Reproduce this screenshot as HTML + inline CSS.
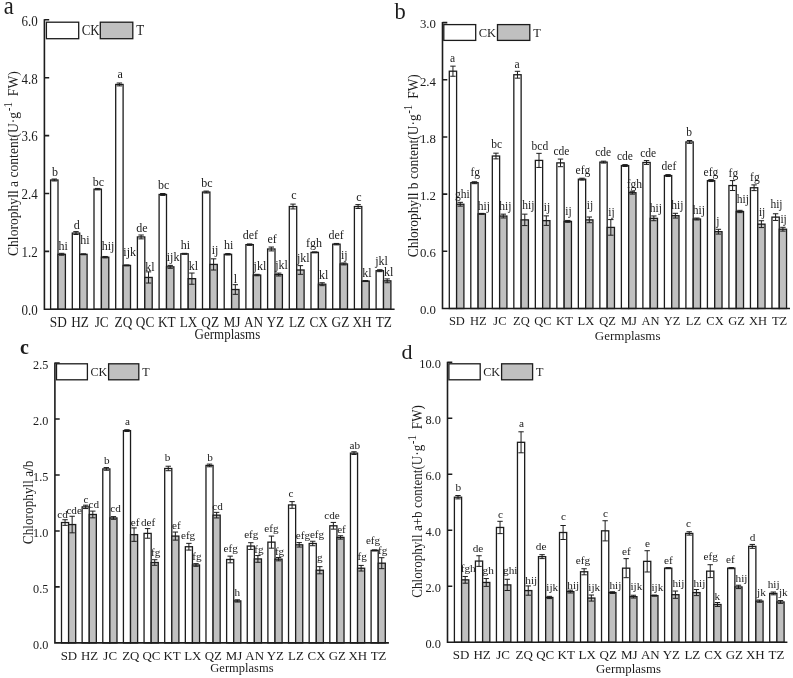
<!DOCTYPE html>
<html><head><meta charset="utf-8"><title>Chlorophyll content</title>
<style>
html,body{margin:0;padding:0;background:#fff;}
svg{display:block;will-change:transform;font-family:"Liberation Serif",serif;fill:#1c1c1c;}
</style></head>
<body>
<svg width="793" height="678" viewBox="0 0 793 678">
<rect width="793" height="678" fill="#fff"/>
<g id="panel-a">
<g stroke="#1c1c1c" stroke-width="1.3"><rect x="50.6" y="179.99" width="7.4" height="129.31" fill="#ffffff"/><rect x="58" y="254.3" width="7.4" height="55" fill="#c0c0c0"/><rect x="72.3" y="233.06" width="7.4" height="76.24" fill="#ffffff"/><rect x="79.7" y="254.3" width="7.4" height="55" fill="#c0c0c0"/><rect x="94" y="189.16" width="7.4" height="120.14" fill="#ffffff"/><rect x="101.4" y="257.19" width="7.4" height="52.11" fill="#c0c0c0"/><rect x="115.7" y="84.46" width="7.4" height="224.84" fill="#ffffff"/><rect x="123.1" y="265.39" width="7.4" height="43.91" fill="#c0c0c0"/><rect x="137.4" y="236.93" width="7.4" height="72.38" fill="#ffffff"/><rect x="144.8" y="277.45" width="7.4" height="31.85" fill="#c0c0c0"/><rect x="159.1" y="194.47" width="7.4" height="114.83" fill="#ffffff"/><rect x="166.5" y="266.84" width="7.4" height="42.46" fill="#c0c0c0"/><rect x="180.8" y="253.81" width="7.4" height="55.49" fill="#ffffff"/><rect x="188.2" y="278.66" width="7.4" height="30.64" fill="#c0c0c0"/><rect x="202.5" y="192.05" width="7.4" height="117.25" fill="#ffffff"/><rect x="209.9" y="264.43" width="7.4" height="44.87" fill="#c0c0c0"/><rect x="224.2" y="254.3" width="7.4" height="55" fill="#ffffff"/><rect x="231.6" y="289.52" width="7.4" height="19.78" fill="#c0c0c0"/><rect x="245.9" y="244.65" width="7.4" height="64.66" fill="#ffffff"/><rect x="253.3" y="275.04" width="7.4" height="34.26" fill="#c0c0c0"/><rect x="267.6" y="248.99" width="7.4" height="60.31" fill="#ffffff"/><rect x="275" y="274.56" width="7.4" height="34.74" fill="#c0c0c0"/><rect x="289.3" y="206.53" width="7.4" height="102.77" fill="#ffffff"/><rect x="296.7" y="269.98" width="7.4" height="39.32" fill="#c0c0c0"/><rect x="311" y="252.37" width="7.4" height="56.94" fill="#ffffff"/><rect x="318.4" y="284.21" width="7.4" height="25.09" fill="#c0c0c0"/><rect x="332.7" y="244.16" width="7.4" height="65.14" fill="#ffffff"/><rect x="340.1" y="263.94" width="7.4" height="45.36" fill="#c0c0c0"/><rect x="354.4" y="206.53" width="7.4" height="102.77" fill="#ffffff"/><rect x="361.8" y="281.07" width="7.4" height="28.23" fill="#c0c0c0"/><rect x="376.1" y="270.7" width="7.4" height="38.6" fill="#ffffff"/><rect x="383.5" y="280.83" width="7.4" height="28.47" fill="#c0c0c0"/></g>
<path d="M54.3 179.03V180.96M51.6 179.03h5.4M51.6 180.96h5.4M61.7 253.33V255.26M59 253.33h5.4M59 255.26h5.4M76 231.62V234.51M73.3 231.62h5.4M73.3 234.51h5.4M83.4 253.81V254.78M80.7 253.81h5.4M80.7 254.78h5.4M97.7 188.43V189.88M95 188.43h5.4M95 189.88h5.4M105.1 256.47V257.91M102.4 256.47h5.4M102.4 257.91h5.4M119.4 83.01V85.9M116.7 83.01h5.4M116.7 85.9h5.4M126.8 264.91V265.88M124.1 264.91h5.4M124.1 265.88h5.4M141.1 235V238.86M138.4 235h5.4M138.4 238.86h5.4M148.5 271.86V283.05M145.8 271.86h5.4M145.8 283.05h5.4M162.8 193.5V195.43M160.1 193.5h5.4M160.1 195.43h5.4M170.2 265.39V268.29M167.5 265.39h5.4M167.5 268.29h5.4M184.5 253.33V254.29M181.8 253.33h5.4M181.8 254.29h5.4M191.9 273.06V284.26M189.2 273.06h5.4M189.2 284.26h5.4M206.2 191.09V193.02M203.5 191.09h5.4M203.5 193.02h5.4M213.6 258.83V270.02M210.9 258.83h5.4M210.9 270.02h5.4M227.9 253.57V255.02M225.2 253.57h5.4M225.2 255.02h5.4M235.3 284.69V294.34M232.6 284.69h5.4M232.6 294.34h5.4M249.6 243.92V245.37M246.9 243.92h5.4M246.9 245.37h5.4M257 274.32V275.77M254.3 274.32h5.4M254.3 275.77h5.4M271.3 247.06V250.92M268.6 247.06h5.4M268.6 250.92h5.4M278.7 273.11V276.01M276 273.11h5.4M276 276.01h5.4M293 204.12V208.94M290.3 204.12h5.4M290.3 208.94h5.4M300.4 265.63V274.32M297.7 265.63h5.4M297.7 274.32h5.4M314.7 251.88V252.85M312 251.88h5.4M312 252.85h5.4M322.1 282.76V285.66M319.4 282.76h5.4M319.4 285.66h5.4M336.4 243.44V244.89M333.7 243.44h5.4M333.7 244.89h5.4M343.8 262.98V264.91M341.1 262.98h5.4M341.1 264.91h5.4M358.1 204.6V208.46M355.4 204.6h5.4M355.4 208.46h5.4M365.5 280.59V281.56M362.8 280.59h5.4M362.8 281.56h5.4M379.8 269.74V271.66M377.1 269.74h5.4M377.1 271.66h5.4M387.2 278.9V282.76M384.5 278.9h5.4M384.5 282.76h5.4" fill="none" stroke="#1c1c1c" stroke-width="1.0"/>
<path d="M44.4 19.3V309.3H394.6M44.4 251.4h4.8M44.4 193.5h4.8M44.4 135.6h4.8M44.4 77.7h4.8M44.4 19.8h4.8" fill="none" stroke="#1c1c1c" stroke-width="1.6"/>
<g font-size="13" text-anchor="end"><text transform="translate(37.8 315.1) scale(1 1.1)">0.0</text><text transform="translate(37.8 257.2) scale(1 1.1)">1.2</text><text transform="translate(37.8 199.3) scale(1 1.1)">2.4</text><text transform="translate(37.8 141.4) scale(1 1.1)">3.6</text><text transform="translate(37.8 83.5) scale(1 1.1)">4.8</text><text transform="translate(37.8 25.6) scale(1 1.1)">6.0</text></g>
<g font-size="13.3" text-anchor="middle"><text transform="translate(58.3 326.6) scale(1 1.1)">SD</text><text transform="translate(80 326.6) scale(1 1.1)">HZ</text><text transform="translate(101.7 326.6) scale(1 1.1)">JC</text><text transform="translate(123.4 326.6) scale(1 1.1)">ZQ</text><text transform="translate(145.1 326.6) scale(1 1.1)">QC</text><text transform="translate(166.8 326.6) scale(1 1.1)">KT</text><text transform="translate(188.5 326.6) scale(1 1.1)">LX</text><text transform="translate(210.2 326.6) scale(1 1.1)">QZ</text><text transform="translate(231.9 326.6) scale(1 1.1)">MJ</text><text transform="translate(253.6 326.6) scale(1 1.1)">AN</text><text transform="translate(275.3 326.6) scale(1 1.1)">YZ</text><text transform="translate(297 326.6) scale(1 1.1)">LZ</text><text transform="translate(318.7 326.6) scale(1 1.1)">CX</text><text transform="translate(340.4 326.6) scale(1 1.1)">GZ</text><text transform="translate(362.1 326.6) scale(1 1.1)">XH</text><text transform="translate(383.8 326.6) scale(1 1.1)">TZ</text></g>
<g font-size="12" text-anchor="middle"><text x="55.1" y="175.7">b</text><text x="63.2" y="250.4">hi</text><text x="76.8" y="228.6">d</text><text x="84.9" y="243.7">hi</text><text x="98.5" y="185.8">bc</text><text x="108" y="250.4">hij</text><text x="120.2" y="78.3">a</text><text x="129.7" y="256.4">ijk</text><text x="141.9" y="232.2">de</text><text x="150" y="270.6">kl</text><text x="163.6" y="189.3">bc</text><text x="173.1" y="260.5">ijk</text><text x="185.3" y="249.4">hi</text><text x="193.4" y="270">kl</text><text x="207" y="187.2">bc</text><text x="215.1" y="254.4">ij</text><text x="228.7" y="249.4">hi</text><text x="235.3" y="282.7">l</text><text x="250.4" y="239.3">def</text><text x="259.9" y="270">jkl</text><text x="272.1" y="243.1">ef</text><text x="281.6" y="268.6">jkl</text><text x="293.8" y="199.3">c</text><text x="303.3" y="261.9">jkl</text><text x="313.9" y="247.2">fgh</text><text x="323.6" y="278.6">kl</text><text x="336.2" y="239.3">def</text><text x="344.3" y="259.3">ij</text><text x="358.9" y="200.5">c</text><text x="367" y="276.6">kl</text><text x="381.6" y="264.5">jkl</text><text x="388.7" y="275.6">kl</text></g>
<text transform="translate(227.4 339.3) scale(1 1.1)" font-size="13" text-anchor="middle">Germplasms</text>
<text transform="translate(18.2 163.6) rotate(-90) scale(1 1.12)" font-size="13.6" text-anchor="middle">Chlorophyll a content(U·g<tspan font-size="11" dy="-5.8" dx="0.6">-1</tspan><tspan dy="5.8" dx="2.6"> FW)</tspan></text>
<g stroke="#1c1c1c" stroke-width="1.3"><rect x="46.4" y="22.2" width="32.3" height="16.5" fill="#fff"/><rect x="100.3" y="22.2" width="32.5" height="16.5" fill="#c0c0c0"/></g>
<text transform="translate(81.7 35.05) scale(1 1.1)" font-size="13">CK</text>
<text transform="translate(136.3 35.05) scale(1 1.1)" font-size="13">T</text>
<text transform="translate(3.8 14.2) scale(1 1.08)" font-size="22.5">a</text>
</g>
<g id="panel-b">
<g stroke="#1c1c1c" stroke-width="1.3"><rect x="449.3" y="71.2" width="7.3" height="237.3" fill="#ffffff"/><rect x="456.6" y="204.24" width="7.3" height="104.26" fill="#c0c0c0"/><rect x="470.81" y="182.7" width="7.3" height="125.8" fill="#ffffff"/><rect x="478.11" y="213.87" width="7.3" height="94.63" fill="#c0c0c0"/><rect x="492.32" y="156.02" width="7.3" height="152.48" fill="#ffffff"/><rect x="499.62" y="216.06" width="7.3" height="92.44" fill="#c0c0c0"/><rect x="513.83" y="74.73" width="7.3" height="233.77" fill="#ffffff"/><rect x="521.13" y="219.87" width="7.3" height="88.63" fill="#c0c0c0"/><rect x="535.34" y="160.4" width="7.3" height="148.1" fill="#ffffff"/><rect x="542.64" y="220.63" width="7.3" height="87.87" fill="#c0c0c0"/><rect x="556.85" y="162.88" width="7.3" height="145.62" fill="#ffffff"/><rect x="564.15" y="221.4" width="7.3" height="87.1" fill="#c0c0c0"/><rect x="578.36" y="179.18" width="7.3" height="129.32" fill="#ffffff"/><rect x="585.66" y="219.87" width="7.3" height="88.63" fill="#c0c0c0"/><rect x="599.87" y="162.12" width="7.3" height="146.38" fill="#ffffff"/><rect x="607.17" y="227.4" width="7.3" height="81.1" fill="#c0c0c0"/><rect x="621.38" y="165.55" width="7.3" height="142.95" fill="#ffffff"/><rect x="628.68" y="192.71" width="7.3" height="115.79" fill="#c0c0c0"/><rect x="642.89" y="162.5" width="7.3" height="146" fill="#ffffff"/><rect x="650.19" y="218.35" width="7.3" height="90.15" fill="#c0c0c0"/><rect x="664.4" y="175.56" width="7.3" height="132.94" fill="#ffffff"/><rect x="671.7" y="215.68" width="7.3" height="92.82" fill="#c0c0c0"/><rect x="685.91" y="141.92" width="7.3" height="166.58" fill="#ffffff"/><rect x="693.21" y="219.01" width="7.3" height="89.49" fill="#c0c0c0"/><rect x="707.42" y="180.61" width="7.3" height="127.89" fill="#ffffff"/><rect x="714.72" y="231.69" width="7.3" height="76.81" fill="#c0c0c0"/><rect x="728.93" y="185.56" width="7.3" height="122.94" fill="#ffffff"/><rect x="736.23" y="211.48" width="7.3" height="97.02" fill="#c0c0c0"/><rect x="750.44" y="187.75" width="7.3" height="120.75" fill="#ffffff"/><rect x="757.74" y="224.16" width="7.3" height="84.34" fill="#c0c0c0"/><rect x="771.95" y="217.11" width="7.3" height="91.39" fill="#ffffff"/><rect x="779.25" y="229.21" width="7.3" height="79.29" fill="#c0c0c0"/></g>
<path d="M452.95 66.15V76.25M450.25 66.15h5.4M450.25 76.25h5.4M460.25 202.34V206.15M457.55 202.34h5.4M457.55 206.15h5.4M474.46 181.75V183.66M471.76 181.75h5.4M471.76 183.66h5.4M481.76 213.39V214.34M479.06 213.39h5.4M479.06 214.34h5.4M495.97 153.16V158.88M493.27 153.16h5.4M493.27 158.88h5.4M503.27 214.15V217.97M500.57 214.15h5.4M500.57 217.97h5.4M517.48 71.3V78.16M514.78 71.3h5.4M514.78 78.16h5.4M524.78 214.15V225.59M522.08 214.15h5.4M522.08 225.59h5.4M538.99 153.35V167.46M536.29 153.35h5.4M536.29 167.46h5.4M546.29 215.87V225.4M543.59 215.87h5.4M543.59 225.4h5.4M560.5 159.07V166.69M557.8 159.07h5.4M557.8 166.69h5.4M567.8 220.44V222.35M565.1 220.44h5.4M565.1 222.35h5.4M582.01 178.22V180.13M579.31 178.22h5.4M579.31 180.13h5.4M589.31 217.01V222.73M586.61 217.01h5.4M586.61 222.73h5.4M603.52 161.17V163.07M600.82 161.17h5.4M600.82 163.07h5.4M610.82 219.59V235.21M608.12 219.59h5.4M608.12 235.21h5.4M625.03 164.6V166.5M622.33 164.6h5.4M622.33 166.5h5.4M632.33 191.28V194.14M629.63 191.28h5.4M629.63 194.14h5.4M646.54 160.59V164.41M643.84 160.59h5.4M643.84 164.41h5.4M653.84 215.96V220.73M651.14 215.96h5.4M651.14 220.73h5.4M668.05 174.6V176.51M665.35 174.6h5.4M665.35 176.51h5.4M675.35 213.3V218.06M672.65 213.3h5.4M672.65 218.06h5.4M689.56 140.49V143.35M686.86 140.49h5.4M686.86 143.35h5.4M696.86 218.06V219.97M694.16 218.06h5.4M694.16 219.97h5.4M711.07 179.65V181.56M708.37 179.65h5.4M708.37 181.56h5.4M718.37 229.31V234.07M715.67 229.31h5.4M715.67 234.07h5.4M732.58 180.61V190.52M729.88 180.61h5.4M729.88 190.52h5.4M739.88 210.34V212.63M737.18 210.34h5.4M737.18 212.63h5.4M754.09 184.9V190.61M751.39 184.9h5.4M751.39 190.61h5.4M761.39 220.73V227.59M758.69 220.73h5.4M758.69 227.59h5.4M775.6 213.77V220.44M772.9 213.77h5.4M772.9 220.44h5.4M782.9 227.3V231.12M780.2 227.3h5.4M780.2 231.12h5.4" fill="none" stroke="#1c1c1c" stroke-width="1.0"/>
<path d="M442.5 22.1V308.5H790M442.5 251.32h4.8M442.5 194.14h4.8M442.5 136.96h4.8M442.5 79.78h4.8M442.5 22.6h4.8" fill="none" stroke="#1c1c1c" stroke-width="1.6"/>
<g font-size="12.8" text-anchor="end"><text x="435.9" y="314.3">0.0</text><text x="435.9" y="257.12">0.6</text><text x="435.9" y="199.94">1.2</text><text x="435.9" y="142.76">1.8</text><text x="435.9" y="85.58">2.4</text><text x="435.9" y="28.4">3.0</text></g>
<g font-size="12.5" text-anchor="middle"><text x="456.9" y="324.6">SD</text><text x="478.41" y="324.6">HZ</text><text x="499.92" y="324.6">JC</text><text x="521.43" y="324.6">ZQ</text><text x="542.94" y="324.6">QC</text><text x="564.45" y="324.6">KT</text><text x="585.96" y="324.6">LX</text><text x="607.47" y="324.6">QZ</text><text x="628.98" y="324.6">MJ</text><text x="650.49" y="324.6">AN</text><text x="672" y="324.6">YZ</text><text x="693.51" y="324.6">LZ</text><text x="715.02" y="324.6">CX</text><text x="736.53" y="324.6">GZ</text><text x="758.04" y="324.6">XH</text><text x="779.55" y="324.6">TZ</text></g>
<g font-size="11.52" text-anchor="middle"><text x="452.55" y="62.1">a</text><text x="462.25" y="198.2">ghi</text><text x="475.26" y="175.6">fg</text><text x="483.76" y="209.5">hij</text><text x="496.77" y="148.3">bc</text><text x="505.27" y="209.5">hij</text><text x="517.08" y="67.6">a</text><text x="528.28" y="208.9">hij</text><text x="539.89" y="150">bcd</text><text x="546.99" y="210.9">ij</text><text x="561.4" y="155.4">cde</text><text x="568.5" y="214.9">ij</text><text x="582.91" y="174.2">efg</text><text x="590.01" y="209.3">ij</text><text x="603.22" y="156.4">cde</text><text x="611.52" y="215.5">ij</text><text x="624.93" y="160.4">cde</text><text x="634.33" y="187.7">fgh</text><text x="648.24" y="157">cde</text><text x="655.84" y="211.9">hij</text><text x="668.95" y="170.1">def</text><text x="677.35" y="208.9">hij</text><text x="689.16" y="136.2">b</text><text x="698.86" y="214.3">hij</text><text x="710.97" y="175.6">efg</text><text x="717.77" y="225.4">j</text><text x="733.38" y="176.6">fg</text><text x="742.88" y="202.8">hij</text><text x="754.89" y="180.6">fg</text><text x="762.09" y="215.7">ij</text><text x="776.5" y="208.4">hij</text><text x="783.6" y="222.8">ij</text></g>
<text x="627.7" y="339.8" font-size="13" text-anchor="middle">Germplasms</text>
<text transform="translate(418.2 165.7) rotate(-90) scale(1 1.12)" font-size="13.4" text-anchor="middle">Chlorophyll b content(U·g<tspan font-size="11" dy="-5.8" dx="0.6">-1</tspan><tspan dy="5.8" dx="2.6"> FW)</tspan></text>
<g stroke="#1c1c1c" stroke-width="1.3"><rect x="443.8" y="24.6" width="31.9" height="15.8" fill="#fff"/><rect x="497.5" y="24.6" width="32.3" height="15.8" fill="#c0c0c0"/></g>
<text x="478.7" y="37.1" font-size="12.48">CK</text>
<text x="533.3" y="37.1" font-size="12.48">T</text>
<text x="394.4" y="19.4" font-size="22.5">b</text>
</g>
<g id="panel-c">
<g stroke="#1c1c1c" stroke-width="1.3"><rect x="61.5" y="522.54" width="7.1" height="120.36" fill="#ffffff"/><rect x="68.6" y="524.56" width="7.1" height="118.34" fill="#c0c0c0"/><rect x="82.14" y="506.87" width="7.1" height="136.03" fill="#ffffff"/><rect x="89.24" y="514.48" width="7.1" height="128.42" fill="#c0c0c0"/><rect x="102.78" y="468.91" width="7.1" height="173.99" fill="#ffffff"/><rect x="109.88" y="517.95" width="7.1" height="124.95" fill="#c0c0c0"/><rect x="123.42" y="430.62" width="7.1" height="212.28" fill="#ffffff"/><rect x="130.52" y="534.63" width="7.1" height="108.27" fill="#c0c0c0"/><rect x="144.06" y="533.4" width="7.1" height="109.5" fill="#ffffff"/><rect x="151.16" y="562.51" width="7.1" height="80.39" fill="#c0c0c0"/><rect x="164.7" y="468.47" width="7.1" height="174.43" fill="#ffffff"/><rect x="171.8" y="536.09" width="7.1" height="106.81" fill="#c0c0c0"/><rect x="185.34" y="546.73" width="7.1" height="96.17" fill="#ffffff"/><rect x="192.44" y="564.98" width="7.1" height="77.92" fill="#c0c0c0"/><rect x="205.98" y="465.44" width="7.1" height="177.46" fill="#ffffff"/><rect x="213.08" y="515.15" width="7.1" height="127.75" fill="#c0c0c0"/><rect x="226.62" y="559.49" width="7.1" height="83.41" fill="#ffffff"/><rect x="233.72" y="600.91" width="7.1" height="41.99" fill="#c0c0c0"/><rect x="247.26" y="546.05" width="7.1" height="96.85" fill="#ffffff"/><rect x="254.36" y="558.93" width="7.1" height="83.97" fill="#c0c0c0"/><rect x="267.9" y="542.14" width="7.1" height="100.76" fill="#ffffff"/><rect x="275" y="559.15" width="7.1" height="83.75" fill="#c0c0c0"/><rect x="288.54" y="504.97" width="7.1" height="137.93" fill="#ffffff"/><rect x="295.64" y="544.82" width="7.1" height="98.08" fill="#c0c0c0"/><rect x="309.18" y="543.48" width="7.1" height="99.42" fill="#ffffff"/><rect x="316.28" y="570.24" width="7.1" height="72.66" fill="#c0c0c0"/><rect x="329.82" y="525.79" width="7.1" height="117.11" fill="#ffffff"/><rect x="336.92" y="537.43" width="7.1" height="105.47" fill="#c0c0c0"/><rect x="350.46" y="453.13" width="7.1" height="189.77" fill="#ffffff"/><rect x="357.56" y="568.22" width="7.1" height="74.68" fill="#c0c0c0"/><rect x="371.1" y="550.42" width="7.1" height="92.48" fill="#ffffff"/><rect x="378.2" y="563.18" width="7.1" height="79.72" fill="#c0c0c0"/></g>
<path d="M65.05 519.74V525.34M62.35 519.74h5.4M62.35 525.34h5.4M72.15 516.27V532.84M69.45 516.27h5.4M69.45 532.84h5.4M85.69 505.19V508.55M82.99 505.19h5.4M82.99 508.55h5.4M92.79 511.12V517.84M90.09 511.12h5.4M90.09 517.84h5.4M106.33 467.57V470.26M103.63 467.57h5.4M103.63 470.26h5.4M113.43 516.61V519.3M110.73 516.61h5.4M110.73 519.3h5.4M126.97 429.73V431.52M124.27 429.73h5.4M124.27 431.52h5.4M134.07 527.92V541.35M131.37 527.92h5.4M131.37 541.35h5.4M147.61 528.59V538.22M144.91 528.59h5.4M144.91 538.22h5.4M154.71 559.71V565.31M152.01 559.71h5.4M152.01 565.31h5.4M168.25 466.23V470.71M165.55 466.23h5.4M165.55 470.71h5.4M175.35 532.06V540.12M172.65 532.06h5.4M172.65 540.12h5.4M188.89 543.37V550.09M186.19 543.37h5.4M186.19 550.09h5.4M195.99 563.63V566.32M193.29 563.63h5.4M193.29 566.32h5.4M209.53 464.1V466.79M206.83 464.1h5.4M206.83 466.79h5.4M216.63 512.35V517.95M213.93 512.35h5.4M213.93 517.95h5.4M230.17 556.13V562.85M227.47 556.13h5.4M227.47 562.85h5.4M237.27 599.8V602.03M234.57 599.8h5.4M234.57 602.03h5.4M250.81 542.7V549.41M248.11 542.7h5.4M248.11 549.41h5.4M257.91 555.57V562.29M255.21 555.57h5.4M255.21 562.29h5.4M271.45 536.09V548.18M268.75 536.09h5.4M268.75 548.18h5.4M278.55 557.47V560.83M275.85 557.47h5.4M275.85 560.83h5.4M292.09 501.61V508.32M289.39 501.61h5.4M289.39 508.32h5.4M299.19 542.58V547.06M296.49 542.58h5.4M296.49 547.06h5.4M312.73 541.24V545.72M310.03 541.24h5.4M310.03 545.72h5.4M319.83 566.66V573.82M317.13 566.66h5.4M317.13 573.82h5.4M333.37 522.43V529.15M330.67 522.43h5.4M330.67 529.15h5.4M340.47 535.75V539.11M337.77 535.75h5.4M337.77 539.11h5.4M354.01 451.78V454.47M351.31 451.78h5.4M351.31 454.47h5.4M361.11 565.42V571.02M358.41 565.42h5.4M358.41 571.02h5.4M374.65 549.86V550.98M371.95 549.86h5.4M371.95 550.98h5.4M381.75 557.7V568.67M379.05 557.7h5.4M379.05 568.67h5.4" fill="none" stroke="#1c1c1c" stroke-width="1.0"/>
<path d="M54.9 362.5V642.9H388.9M54.9 586.92h4.8M54.9 530.94h4.8M54.9 474.96h4.8M54.9 418.98h4.8M54.9 363h4.8" fill="none" stroke="#1c1c1c" stroke-width="1.6"/>
<g font-size="12.2" text-anchor="end"><text transform="translate(48.3 648.7) scale(1 1.04)">0.0</text><text transform="translate(48.3 592.72) scale(1 1.04)">0.5</text><text transform="translate(48.3 536.74) scale(1 1.04)">1.0</text><text transform="translate(48.3 480.76) scale(1 1.04)">1.5</text><text transform="translate(48.3 424.78) scale(1 1.04)">2.0</text><text transform="translate(48.3 368.8) scale(1 1.04)">2.5</text></g>
<g font-size="12.9" text-anchor="middle"><text transform="translate(68.9 659.5) scale(1 1.04)">SD</text><text transform="translate(89.54 659.5) scale(1 1.04)">HZ</text><text transform="translate(110.18 659.5) scale(1 1.04)">JC</text><text transform="translate(130.82 659.5) scale(1 1.04)">ZQ</text><text transform="translate(151.46 659.5) scale(1 1.04)">QC</text><text transform="translate(172.1 659.5) scale(1 1.04)">KT</text><text transform="translate(192.74 659.5) scale(1 1.04)">LX</text><text transform="translate(213.38 659.5) scale(1 1.04)">QZ</text><text transform="translate(234.02 659.5) scale(1 1.04)">MJ</text><text transform="translate(254.66 659.5) scale(1 1.04)">AN</text><text transform="translate(275.3 659.5) scale(1 1.04)">YZ</text><text transform="translate(295.94 659.5) scale(1 1.04)">LZ</text><text transform="translate(316.58 659.5) scale(1 1.04)">CX</text><text transform="translate(337.22 659.5) scale(1 1.04)">GZ</text><text transform="translate(357.86 659.5) scale(1 1.04)">XH</text><text transform="translate(378.5 659.5) scale(1 1.04)">TZ</text></g>
<g font-size="11.16" text-anchor="middle"><text x="62.55" y="517.5">cd</text><text x="74.15" y="513.8">cde</text><text x="86.09" y="502.7">c</text><text x="93.79" y="507.8">cd</text><text x="106.73" y="464.4">b</text><text x="115.63" y="512.4">cd</text><text x="127.37" y="425.4">a</text><text x="135.07" y="525.5">ef</text><text x="148.11" y="525.5">def</text><text x="155.71" y="555.5">fg</text><text x="167.65" y="461.4">b</text><text x="176.35" y="529">ef</text><text x="188.09" y="539">efg</text><text x="196.99" y="559.5">fg</text><text x="209.93" y="461">b</text><text x="217.63" y="509.7">cd</text><text x="230.67" y="552">efg</text><text x="237.27" y="596.4">h</text><text x="251.31" y="538.3">efg</text><text x="258.91" y="552.5">fg</text><text x="271.35" y="532.3">efg</text><text x="279.55" y="554.5">fg</text><text x="291.09" y="497.2">c</text><text x="302.99" y="538.8">efg</text><text x="317.03" y="538.4">efg</text><text x="319.83" y="561.2">g</text><text x="331.97" y="518.7">cde</text><text x="341.47" y="532.7">ef</text><text x="354.81" y="448.7">ab</text><text x="362.11" y="559.8">fg</text><text x="373.05" y="544.4">efg</text><text x="382.75" y="554.1">fg</text></g>
<text transform="translate(241.9 672.1) scale(1 1.04)" font-size="12.5" text-anchor="middle">Germplasms</text>
<text transform="translate(32.6 502.4) rotate(-90) scale(1 1.12)" font-size="13.27" text-anchor="middle">Chlorophyll a/b</text>
<g stroke="#1c1c1c" stroke-width="1.3"><rect x="56.5" y="363.8" width="30.9" height="16" fill="#fff"/><rect x="108.6" y="363.8" width="30.2" height="16" fill="#c0c0c0"/></g>
<text transform="translate(90.4 376.4) scale(1 1.04)" font-size="12.09">CK</text>
<text transform="translate(142.3 376.4) scale(1 1.04)" font-size="12.09">T</text>
<text transform="translate(19.9 354) scale(1 1.02)" font-size="20" font-weight="bold">c</text>
</g>
<g id="panel-d">
<g stroke="#1c1c1c" stroke-width="1.3"><rect x="454.4" y="497.21" width="7.2" height="145.09" fill="#ffffff"/><rect x="461.6" y="579.84" width="7.2" height="62.46" fill="#c0c0c0"/><rect x="475.42" y="561.07" width="7.2" height="81.23" fill="#ffffff"/><rect x="482.62" y="582.47" width="7.2" height="59.83" fill="#c0c0c0"/><rect x="496.44" y="527.46" width="7.2" height="114.84" fill="#ffffff"/><rect x="503.64" y="584.88" width="7.2" height="57.42" fill="#c0c0c0"/><rect x="517.46" y="442.31" width="7.2" height="199.99" fill="#ffffff"/><rect x="524.66" y="590.57" width="7.2" height="51.73" fill="#c0c0c0"/><rect x="538.48" y="556.65" width="7.2" height="85.65" fill="#ffffff"/><rect x="545.68" y="597.48" width="7.2" height="44.82" fill="#c0c0c0"/><rect x="559.5" y="532.5" width="7.2" height="109.8" fill="#ffffff"/><rect x="566.7" y="591.6" width="7.2" height="50.7" fill="#c0c0c0"/><rect x="580.52" y="571.77" width="7.2" height="70.53" fill="#ffffff"/><rect x="587.72" y="598.04" width="7.2" height="44.26" fill="#c0c0c0"/><rect x="601.54" y="530.82" width="7.2" height="111.48" fill="#ffffff"/><rect x="608.74" y="592.58" width="7.2" height="49.72" fill="#c0c0c0"/><rect x="622.56" y="568.16" width="7.2" height="74.14" fill="#ffffff"/><rect x="629.76" y="596.64" width="7.2" height="45.66" fill="#c0c0c0"/><rect x="643.58" y="561.35" width="7.2" height="80.95" fill="#ffffff"/><rect x="650.78" y="595.61" width="7.2" height="46.69" fill="#c0c0c0"/><rect x="664.6" y="568.16" width="7.2" height="74.14" fill="#ffffff"/><rect x="671.8" y="594.68" width="7.2" height="47.62" fill="#c0c0c0"/><rect x="685.62" y="533.43" width="7.2" height="108.87" fill="#ffffff"/><rect x="692.82" y="592.58" width="7.2" height="49.72" fill="#c0c0c0"/><rect x="706.64" y="571.15" width="7.2" height="71.15" fill="#ffffff"/><rect x="713.84" y="604.49" width="7.2" height="37.81" fill="#c0c0c0"/><rect x="727.66" y="568.16" width="7.2" height="74.14" fill="#ffffff"/><rect x="734.86" y="586.92" width="7.2" height="55.38" fill="#c0c0c0"/><rect x="748.68" y="546.39" width="7.2" height="95.91" fill="#ffffff"/><rect x="755.88" y="601.13" width="7.2" height="41.17" fill="#c0c0c0"/><rect x="769.7" y="593.42" width="7.2" height="48.88" fill="#ffffff"/><rect x="776.9" y="601.97" width="7.2" height="40.33" fill="#c0c0c0"/></g>
<path d="M458 495.53V498.89M455.3 495.53h5.4M455.3 498.89h5.4M465.2 576.48V583.2M462.5 576.48h5.4M462.5 583.2h5.4M479.02 555.75V566.39M476.32 555.75h5.4M476.32 566.39h5.4M486.22 578.55V586.39M483.52 578.55h5.4M483.52 586.39h5.4M500.04 521.3V533.62M497.34 521.3h5.4M497.34 533.62h5.4M507.24 579.28V590.48M504.54 579.28h5.4M504.54 590.48h5.4M521.06 431.8V452.81M518.36 431.8h5.4M518.36 452.81h5.4M528.26 585.92V595.22M525.56 585.92h5.4M525.56 595.22h5.4M542.08 554.68V558.61M539.38 554.68h5.4M539.38 558.61h5.4M549.28 596.36V598.6M546.58 596.36h5.4M546.58 598.6h5.4M563.1 525.5V539.5M560.4 525.5h5.4M560.4 539.5h5.4M570.3 590.2V593M567.6 590.2h5.4M567.6 593h5.4M584.12 568.75V574.8M581.42 568.75h5.4M581.42 574.8h5.4M591.32 595.02V601.07M588.62 595.02h5.4M588.62 601.07h5.4M605.14 520.74V540.9M602.44 520.74h5.4M602.44 540.9h5.4M612.34 591.74V593.42M609.64 591.74h5.4M609.64 593.42h5.4M626.16 558.63V577.68M623.46 558.63h5.4M623.46 577.68h5.4M633.36 595.24V598.04M630.66 595.24h5.4M630.66 598.04h5.4M647.18 550.71V571.99M644.48 550.71h5.4M644.48 571.99h5.4M654.38 595.05V596.17M651.68 595.05h5.4M651.68 596.17h5.4M668.2 567.6V568.72M665.5 567.6h5.4M665.5 568.72h5.4M675.4 591.04V598.32M672.7 591.04h5.4M672.7 598.32h5.4M689.22 531.74V535.11M686.52 531.74h5.4M686.52 535.11h5.4M696.42 589.56V595.61M693.72 589.56h5.4M693.72 595.61h5.4M710.24 564.71V577.6M707.54 564.71h5.4M707.54 577.6h5.4M717.44 602.53V606.45M714.74 602.53h5.4M714.74 606.45h5.4M731.26 567.6V568.72M728.56 567.6h5.4M728.56 568.72h5.4M738.46 585.24V588.6M735.76 585.24h5.4M735.76 588.6h5.4M752.28 544.43V548.35M749.58 544.43h5.4M749.58 548.35h5.4M759.48 600V602.25M756.78 600h5.4M756.78 602.25h5.4M773.3 592.02V594.82M770.6 592.02h5.4M770.6 594.82h5.4M780.5 600.57V603.37M777.8 600.57h5.4M777.8 603.37h5.4" fill="none" stroke="#1c1c1c" stroke-width="1.0"/>
<path d="M447.5 361.7V642.3H787.4M447.5 586.28h4.8M447.5 530.26h4.8M447.5 474.24h4.8M447.5 418.22h4.8M447.5 362.2h4.8" fill="none" stroke="#1c1c1c" stroke-width="1.6"/>
<g font-size="12.4" text-anchor="end"><text transform="translate(440.9 648.1) scale(1 1.02)">0.0</text><text transform="translate(440.9 592.08) scale(1 1.02)">2.0</text><text transform="translate(440.9 536.06) scale(1 1.02)">4.0</text><text transform="translate(440.9 480.04) scale(1 1.02)">6.0</text><text transform="translate(440.9 424.02) scale(1 1.02)">8.0</text><text transform="translate(440.9 368) scale(1 1.02)">10.0</text></g>
<g font-size="13" text-anchor="middle"><text transform="translate(461.1 658.8) scale(1 1.02)">SD</text><text transform="translate(482.12 658.8) scale(1 1.02)">HZ</text><text transform="translate(503.14 658.8) scale(1 1.02)">JC</text><text transform="translate(524.16 658.8) scale(1 1.02)">ZQ</text><text transform="translate(545.18 658.8) scale(1 1.02)">QC</text><text transform="translate(566.2 658.8) scale(1 1.02)">KT</text><text transform="translate(587.22 658.8) scale(1 1.02)">LX</text><text transform="translate(608.24 658.8) scale(1 1.02)">QZ</text><text transform="translate(629.26 658.8) scale(1 1.02)">MJ</text><text transform="translate(650.28 658.8) scale(1 1.02)">AN</text><text transform="translate(671.3 658.8) scale(1 1.02)">YZ</text><text transform="translate(692.32 658.8) scale(1 1.02)">LZ</text><text transform="translate(713.34 658.8) scale(1 1.02)">CX</text><text transform="translate(734.36 658.8) scale(1 1.02)">GZ</text><text transform="translate(755.38 658.8) scale(1 1.02)">XH</text><text transform="translate(776.4 658.8) scale(1 1.02)">TZ</text></g>
<g font-size="11.28" text-anchor="middle"><text x="458.4" y="490.5">b</text><text x="468.2" y="571.8">fgh</text><text x="478.02" y="552.2">de</text><text x="488.22" y="573.8">gh</text><text x="500.44" y="517.9">c</text><text x="510.24" y="574.4">ghi</text><text x="521.46" y="427.2">a</text><text x="531.26" y="583.5">hij</text><text x="541.08" y="549.6">de</text><text x="552.28" y="591">ijk</text><text x="563.5" y="520">c</text><text x="573.3" y="589">hij</text><text x="582.92" y="563.7">efg</text><text x="594.32" y="591">ijk</text><text x="605.54" y="517.3">c</text><text x="615.34" y="589">hij</text><text x="626.36" y="554.7">ef</text><text x="636.36" y="590.4">ijk</text><text x="647.58" y="547.2">e</text><text x="657.38" y="591">ijk</text><text x="668.4" y="563.7">ef</text><text x="678.4" y="586.9">hij</text><text x="688.62" y="526.8">c</text><text x="699.42" y="586.9">hij</text><text x="710.64" y="559.7">efg</text><text x="717.44" y="599.7">k</text><text x="730.26" y="563.3">ef</text><text x="741.46" y="581.5">hij</text><text x="752.68" y="541">d</text><text x="761.48" y="596.1">jk</text><text x="773.7" y="588">hij</text><text x="783.3" y="596.1">jk</text></g>
<text transform="translate(628.5 672.5) scale(1 1.02)" font-size="12.85" text-anchor="middle">Germplasms</text>
<text transform="translate(422.3 501.4) rotate(-90) scale(1 1.12)" font-size="13.12" text-anchor="middle">Chlorophyll a+b content(U·g<tspan font-size="11" dy="-5.8" dx="0.6">-1</tspan><tspan dy="5.8" dx="2.6"> FW)</tspan></text>
<g stroke="#1c1c1c" stroke-width="1.3"><rect x="448.9" y="363.8" width="31.3" height="16" fill="#fff"/><rect x="501.6" y="363.8" width="31" height="16" fill="#c0c0c0"/></g>
<text transform="translate(483.2 376.4) scale(1 1.02)" font-size="12.22">CK</text>
<text transform="translate(536.1 376.4) scale(1 1.02)" font-size="12.22">T</text>
<text x="401.4" y="359.4" font-size="22">d</text>
</g>
</svg>
</body></html>
